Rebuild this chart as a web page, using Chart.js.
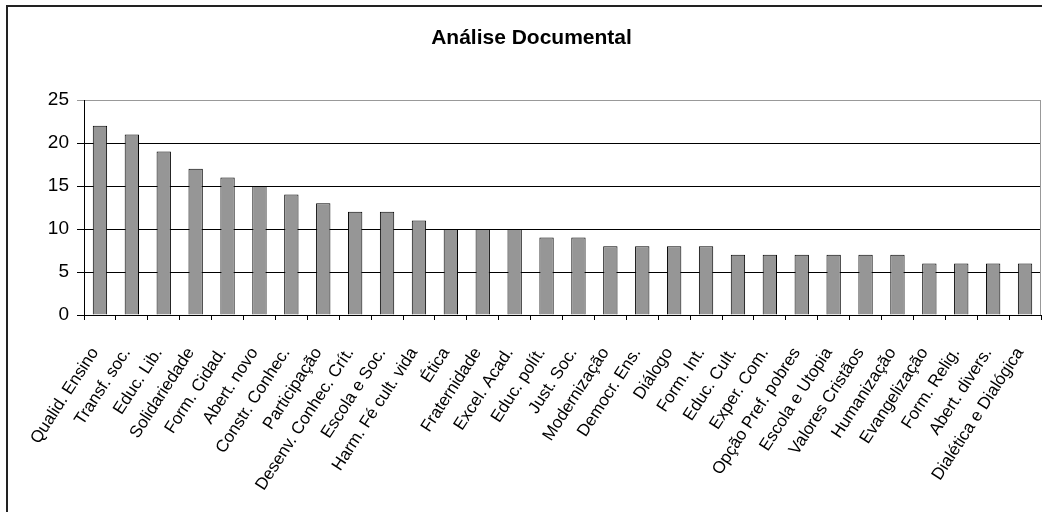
<!DOCTYPE html>
<html>
<head>
<meta charset="utf-8">
<script src="https://cdn.jsdelivr.net/npm/chart.js@4/dist/chart.umd.min.js"></script>
<style>
  html, body { margin: 0; padding: 0; background: #fff; }
  #wrap { width: 1042px; height: 512px; position: relative; }
</style>
</head>
<body>
<div id="wrap"><canvas id="chart" width="1042" height="512"></canvas></div>
<script>
// Categories found in the document analysis, in descending order of frequency
const categories = [
  'Qualid. Ensino', 'Transf. soc.', 'Educ. Lib.', 'Solidariedade', 'Form. Cidad.',
  'Abert. novo', 'Constr. Conhec.', 'Participação', 'Desenv. Conhec. Crít.', 'Escola e Soc.',
  'Harm. Fé cult. vida', 'Ética', 'Fraternidade', 'Excel. Acad.', 'Educ. polít.',
  'Just. Soc.', 'Modernização', 'Democr. Ens.', 'Diálogo', 'Form. Int.',
  'Educ. Cult.', 'Exper. Com.', 'Opção Pref. pobres', 'Escola e Utopia', 'Valores Cristãos',
  'Humanização', 'Evangelização', 'Form. Relig.', 'Abert. divers.', 'Dialética e Dialógica'
];

// Number of occurrences per category
const occurrences = [
  22, 21, 19, 17, 16,
  15, 14, 13, 12, 12,
  11, 10, 10, 10, 9,
  9, 8, 8, 8, 8,
  7, 7, 7, 7, 7,
  7, 6, 6, 6, 6
];

const chartTitle = 'Análise Documental';
const yMin = 0;
const yMax = 25;
const yStep = 5;

Chart.defaults.font.family = "'Liberation Sans', Arial, Helvetica, sans-serif";
Chart.defaults.color = '#000';

// Outer frame of the chart and the right edge of the plot area
const framePlugin = {
  id: 'frame',
  afterDraw(chart) {
    const ctx = chart.ctx;
    const a = chart.chartArea;
    ctx.save();
    ctx.strokeStyle = '#222';
    ctx.lineWidth = 2;
    ctx.beginPath();
    ctx.moveTo(7, 512);
    ctx.lineTo(7, 6);
    ctx.lineTo(1042, 6);
    ctx.stroke();
    ctx.strokeStyle = '#999';
    ctx.lineWidth = 1;
    ctx.beginPath();
    ctx.moveTo(Math.round(a.right) - 0.5, a.top);
    ctx.lineTo(Math.round(a.right) - 0.5, a.bottom);
    ctx.stroke();
    ctx.restore();
  }
};

new Chart(document.getElementById('chart'), {
  type: 'bar',
  data: {
    labels: categories,
    datasets: [{
      data: occurrences,
      backgroundColor: '#969696',
      borderColor: '#000',
      borderWidth: 1,
      barPercentage: 0.45,
      categoryPercentage: 1.0
    }]
  },
  options: {
    responsive: false,
    animation: false,
    layout: { padding: { left: 22, right: 1, top: 0, bottom: 0 } },
    plugins: {
      legend: { display: false },
      tooltip: { enabled: false },
      title: {
        display: true,
        text: chartTitle,
        color: '#000',
        font: { size: 21, weight: 'bold', lineHeight: 1 },
        padding: { top: 28, bottom: 51 }
      }
    },
    scales: {
      x: {
        offset: true,
        grid: {
          offset: true,
          drawOnChartArea: false,
          drawTicks: true,
          tickLength: 5,
          color: '#000'
        },
        border: { color: '#000', width: 1 },
        ticks: {
          autoSkip: false,
          maxRotation: 57,
          minRotation: 57,
          padding: 24,
          labelOffset: -5,
          color: '#000',
          font: { size: 17 }
        },
        afterFit(scale) {
          scale.height = 197;
          scale.paddingLeft = 0;
          scale.paddingRight = 0;
        }
      },
      y: {
        min: yMin,
        max: yMax,
        grid: {
          color: (c) => (c.tick && c.tick.value === yMax ? '#999' : '#000'),
          tickLength: 7,
          lineWidth: 1
        },
        border: { color: '#000', width: 1 },
        ticks: {
          stepSize: yStep,
          padding: 8,
          color: '#000',
          font: { size: 19 }
        },
        afterFit(scale) {
          scale.width = 62;
        }
      }
    }
  },
  plugins: [framePlugin]
});
</script>
</body>
</html>
